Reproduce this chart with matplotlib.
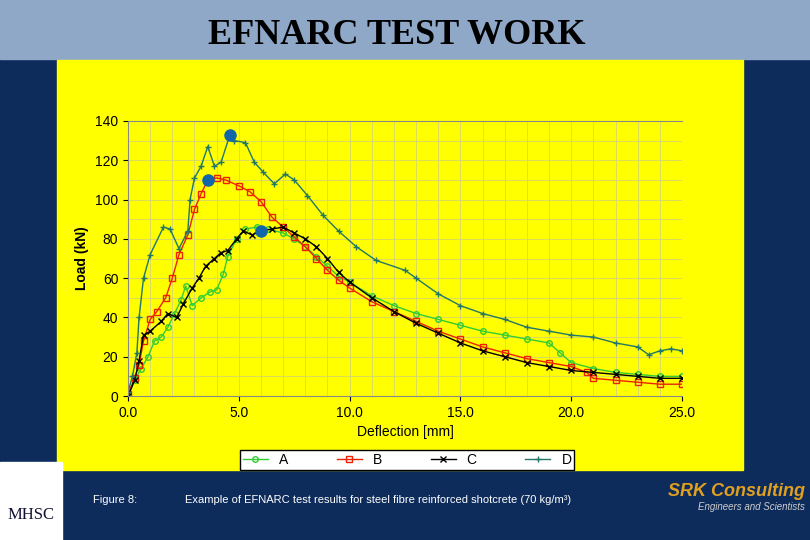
import numpy as np
import matplotlib.pyplot as plt
from matplotlib.patches import Rectangle

plt.rcParams['font.family'] = ['Liberation Sans', 'DejaVu Sans']

a_x = [0, 0.3, 0.6, 0.9, 1.2, 1.5, 1.8, 2.1, 2.4, 2.6, 2.9, 3.3, 3.7, 4.0, 4.3, 4.5, 4.9, 5.3, 5.8, 6.3, 7.0, 7.5, 8.0, 8.5, 9.0, 9.5, 10, 11, 12, 13, 14, 15, 16, 17, 18, 19, 19.5, 20, 21, 22, 23, 24, 25]
a_y = [0, 8, 14, 20, 28, 30, 35, 42, 49, 56, 46, 50, 53, 54, 62, 71, 80, 85, 86, 85, 83, 80, 76, 71, 66, 61, 58, 51, 46, 42, 39, 36, 33, 31, 29, 27, 22, 17, 14, 12, 11, 10, 10]
b_x = [0, 0.3, 0.5, 0.7, 1.0, 1.3, 1.7, 2.0, 2.3, 2.7, 3.0, 3.3, 3.6, 4.0, 4.4, 5.0, 5.5, 6.0, 6.5, 7.0, 7.5, 8.0, 8.5, 9.0, 9.5, 10, 11, 12, 13, 14, 15, 16, 17, 18, 19, 20, 20.7, 21, 22, 23, 24, 25]
b_y = [1, 9, 16, 28, 39, 43, 50, 60, 72, 82, 95, 103, 110, 111, 110, 107, 104, 99, 91, 86, 81, 76, 70, 64, 59, 55, 48, 43, 38, 33, 29, 25, 22, 19, 17, 15, 12, 9, 8, 7, 6, 6]
c_x = [0, 0.3, 0.5, 0.7, 1.0, 1.5, 1.8, 2.2, 2.5, 2.9, 3.2, 3.5, 3.9, 4.2, 4.5, 4.9, 5.2, 5.6, 6.0, 6.5, 7.0, 7.5, 8.0, 8.5, 9.0, 9.5, 10, 11, 12, 13, 14, 15, 16, 17, 18, 19, 20, 21, 22, 23, 24, 25]
c_y = [0, 8, 18, 31, 33, 38, 42, 40, 47, 55, 60, 66, 70, 73, 74, 80, 84, 82, 84, 85, 86, 83, 80, 76, 70, 63, 58, 50, 43, 37, 32, 27, 23, 20, 17, 15, 13, 12, 11, 10, 9, 9]
d_x = [0, 0.2, 0.4, 0.5, 0.7, 1.0, 1.6, 1.9, 2.3, 2.7, 2.8, 3.0, 3.3, 3.6, 3.9, 4.2, 4.6, 4.8, 5.3, 5.7, 6.1, 6.6, 7.1, 7.5, 8.1, 8.8, 9.5, 10.3, 11.2, 12.5, 13.0, 14, 15, 16, 17, 18, 19, 20, 21, 22, 23, 23.5, 24, 24.5, 25]
d_y = [2, 10, 22, 40, 60, 72, 86, 85, 75, 84, 100, 111, 117, 127, 117, 119, 133, 130, 129, 119, 114, 108, 113, 110, 102, 92, 84, 76, 69, 64, 60, 52, 46, 42, 39, 35, 33, 31, 30, 27, 25, 21, 23, 24, 23]
peak_x = [3.6, 4.6, 6.0]
peak_y = [110, 133, 84]

fig = plt.figure(figsize=(8.1, 5.4), dpi=100)
fig.patch.set_facecolor('#0d2c5c')
fig.patches.append(Rectangle((0, 0.89), 1, 0.11, transform=fig.transFigure, color='#8fa8c8', zorder=0))
fig.patches.append(Rectangle((57/810, 70/540), 686/810, 410/540, transform=fig.transFigure, color='#ffff00', zorder=1))
fig.text(0.49, 0.935, 'EFNARC TEST WORK', ha='center', va='center', family='Liberation Serif',
         fontsize=26, fontweight='bold', color='black')

ax = fig.add_axes([128/810, 144/540, 554/810, 275/540])
ax.set_zorder(3)
ax.set_facecolor('#ffff00')
ax.plot(a_x, a_y, '-o', color='#33cc33', mfc='none', ms=4, lw=1, label='A')
ax.plot(b_x, b_y, '-s', color='#ee2200', mfc='none', ms=4, lw=1, label='B')
ax.plot(c_x, c_y, '-x', color='black', ms=4, lw=1, label='C')
ax.plot(d_x, d_y, '-+', color='#227766', ms=5, lw=1, label='D')
ax.plot(peak_x, peak_y, 'o', color='#1166aa', ms=8, zorder=5)
ax.set_xlim(0, 25)
ax.set_ylim(0, 140)
ax.set_xticks(np.arange(0, 26, 5))
ax.set_xticklabels(['%.1f' % v for v in np.arange(0, 26, 5)])
ax.set_yticks(np.arange(0, 141, 20))
ax.set_xticks(np.arange(0, 25.1, 1), minor=True)
ax.set_yticks(np.arange(0, 141, 10), minor=True)
ax.grid(True, which='both', color='#cccc88', lw=0.5)
ax.tick_params(which='minor', length=0)
ax.tick_params(labelsize=10)
ax.spines['right'].set_visible(False)
for s in ['top', 'left', 'bottom']:
    ax.spines[s].set_color('#888888')
ax.set_xlabel('Deflection [mm]', fontsize=10)
ax.set_ylabel('Load (kN)', fontsize=10, fontweight='bold')
handles, labels = ax.get_legend_handles_labels()
leg = fig.legend(handles, labels, loc='center', bbox_to_anchor=(407/810, 1 - 460/540), ncol=4,
                 frameon=True, fancybox=False, edgecolor='black', fontsize=10, columnspacing=3.5,
                 handlelength=1.8, borderpad=0.2, framealpha=1)
leg.set_zorder(4)
leg.get_frame().set_facecolor('white')

fig.patches.append(Rectangle((0, 0), 62/810, 78/540, transform=fig.transFigure, color='white', zorder=2))
fig.text(31/810, 25/540, 'MHSC', ha='center', va='center', family='Liberation Serif', fontsize=12, color='#111133')
fig.text(93/810, 40/540, 'Figure 8:', color='white', fontsize=8, va='center')
fig.text(185/810, 40/540, 'Example of EFNARC test results for steel fibre reinforced shotcrete (70 kg/m\u00b3)',
         color='white', fontsize=8, va='center')
fig.text(805/810, 49/540, 'SRK Consulting', color='#e0a020', fontsize=13, fontweight='bold',
         style='italic', va='center', ha='right')
fig.text(805/810, 33/540, 'Engineers and Scientists', color='#cccccc', fontsize=7, style='italic',
         ha='right', va='center')

fig.savefig('out.png', dpi=100, facecolor=fig.get_facecolor())
